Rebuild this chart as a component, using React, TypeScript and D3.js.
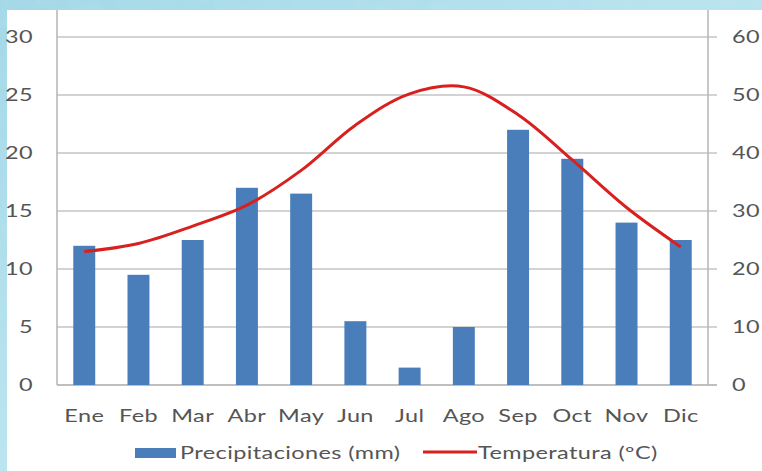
import React from 'react';
import * as d3 from 'd3';

const months = ['Ene', 'Feb', 'Mar', 'Abr', 'May', 'Jun', 'Jul', 'Ago', 'Sep', 'Oct', 'Nov', 'Dic'];
// precipitation, read on the right axis (0-60)
const precip = [24, 19, 25, 34, 33, 11, 3, 10, 44, 39, 28, 25];
// temperature, read on the left axis (0-30)
const temp = [11.5, 12.2, 13.7, 15.5, 18.5, 22.4, 25.1, 25.7, 23.3, 19.4, 15.3, 11.9];
const leftTicks = [0, 5, 10, 15, 20, 25, 30];
const rightTicks = [0, 10, 20, 30, 40, 50, 60];

const W = 762;
const H = 471;
const plot = { left: 57, right: 708, top: 37, bottom: 385 };
const font = 'Lato, "Open Sans", sans-serif';
const textColor = '#555';
const SX = 1.38; // the source image is stretched horizontally

const Label: React.FC<{ x: number; y: number; anchor?: string; children: React.ReactNode }> = ({ x, y, anchor = 'start', children }) => (
  <text transform={`translate(${x},${y}) scale(${SX},1)`} textAnchor={anchor}
    fontFamily={font} fontSize={17} fill={textColor} letterSpacing={0.3}>{children}</text>
);

const App: React.FC = () => {
  const x = d3.scaleBand<string>()
    .domain(months)
    .range([plot.left, plot.right])
    .paddingInner(0.595)
    .paddingOuter(0.3);
  const yL = d3.scaleLinear().domain([0, 30]).range([plot.bottom, plot.top]);
  const yR = d3.scaleLinear().domain([0, 60]).range([plot.bottom, plot.top]);

  const line = d3.line<number>()
    .x((_, i) => (x(months[i]) as number) + x.bandwidth() / 2)
    .y(d => yL(d))
    .curve(d3.curveCatmullRom.alpha(0.5));

  return (
    <svg width={W} height={H} style={{ position: 'absolute', left: 0, top: 0 }}>
      <defs>
        <linearGradient id="bg" x1="0" y1="0" x2="1" y2="1">
          <stop offset="0" stopColor="#9fd6e6" />
          <stop offset="0.5" stopColor="#b9e4ef" />
          <stop offset="1" stopColor="#8ccde0" />
        </linearGradient>
        <filter id="water">
          <feTurbulence type="fractalNoise" baseFrequency="0.06" numOctaves="2" seed="3" />
          <feColorMatrix type="matrix" values="0 0 0 0 0.55  0 0 0 0 0.8  0 0 0 0 0.88  0 0 0 0.6 0" />
          <feComposite in2="SourceGraphic" operator="in" />
        </filter>
      </defs>
      <rect x={0} y={0} width={W} height={H} fill="url(#bg)" />
      <rect x={0} y={0} width={W} height={H} fill="#fff" filter="url(#water)" opacity={0.5} />
      <rect x={7} y={10} width={W - 7} height={H - 10} fill="#fff" />

      {/* gridlines */}
      {leftTicks.map(t => (
        <line key={t} x1={plot.left} x2={plot.right + 9} y1={yL(t)} y2={yL(t)}
          stroke={t === 0 ? '#aaa' : '#c4c4c4'} strokeWidth={1.5} />
      ))}
      {/* axis lines */}
      <line x1={plot.left} x2={plot.left} y1={10} y2={plot.bottom} stroke="#b5b5b5" strokeWidth={1.5} />
      <line x1={plot.right} x2={plot.right} y1={10} y2={plot.bottom} stroke="#b5b5b5" strokeWidth={1.5} />

      {leftTicks.map(t => (
        <Label key={t} x={33} y={yL(t) + 6} anchor="end">{t}</Label>
      ))}
      {rightTicks.map(t => (
        <Label key={t} x={732} y={yR(t) + 6}>{t}</Label>
      ))}

      {/* bars */}
      {precip.map((v, i) => (
        <rect key={months[i]} x={x(months[i])} y={yR(v)} width={x.bandwidth()}
          height={plot.bottom - yR(v)} fill="#4a7ebb" />
      ))}

      {/* temperature line */}
      <path d={line(temp) || ''} fill="none" stroke="#d8201e" strokeWidth={3} strokeLinejoin="round" />

      {months.map(m => (
        <Label key={m} x={(x(m) as number) + x.bandwidth() / 2} y={422} anchor="middle">{m}</Label>
      ))}

      {/* legend */}
      <rect x={135} y={448} width={41} height={10} fill="#4a7ebb" />
      <Label x={180} y={459}>Precipitaciones (mm)</Label>
      <line x1={423} x2={477} y1={452} y2={452} stroke="#d8201e" strokeWidth={3} />
      <Label x={478} y={459}>Temperatura (ºC)</Label>
    </svg>
  );
};

export default App;
